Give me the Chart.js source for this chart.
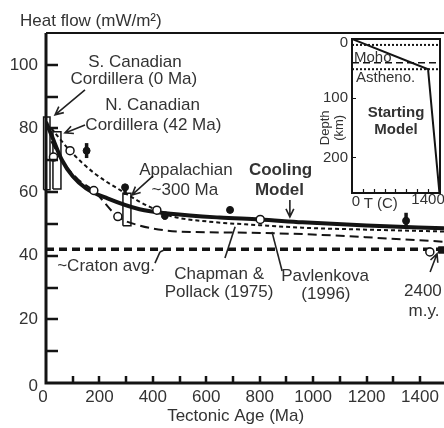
<!DOCTYPE html>
<html>
<head>
<meta charset="utf-8">
<title>Heat flow vs tectonic age</title>
<script src="https://cdn.jsdelivr.net/npm/chart.js"></script>
<style>
  body { margin: 0; background: #fff; }
  #wrap { position: relative; width: 444px; height: 428px; }
  #main { position: absolute; left: 0; top: 0; }
  #inset { position: absolute; left: 300px; top: 30px; }
</style>
</head>
<body>
<div id="wrap">
  <canvas id="main" width="444" height="428"></canvas>
  <canvas id="inset" width="144" height="190"></canvas>
</div>
<script>
// ---- main plot data (age in Ma, heat flow in mW/m2) ----
const xTicks = [0, 100, 200, 300, 400, 500, 600, 700, 800, 900, 1000, 1100, 1200, 1300, 1400];
const yTicks = [0, 10, 20, 30, 40, 50, 60, 70, 80, 90, 100];

const coolAge  = [0, 20, 60, 100, 150, 230, 350, 466, 650, 800, 960, 1200, 1490];
const coolFlow = [82, 78, 70, 65, 61.2, 58, 54.6, 53.2, 52, 51.4, 50.5, 49.5, 48.6];

const cpAge  = [20, 90, 180, 290, 350, 415, 466, 600, 800, 960, 1200, 1490];
const cpFlow = [80, 73, 66, 60, 57, 54.3, 52.5, 50.8, 49.6, 48.8, 48.2, 47.6];

const pavAge  = [20, 67, 120, 179, 269, 350, 500, 700, 960, 1200, 1490];
const pavFlow = [76, 69, 64, 60.4, 52.3, 49.5, 47.6, 47.3, 46.8, 45.8, 44.4];

const cratonAge  = [0, 1490];
const cratonFlow = [42, 42];

const openAge  = [28, 90, 179, 269, 415, 802, 1437];
const openFlow = [71, 73, 60.5, 52.3, 54.3, 51.4, 41.2];

const barAge = [152, 296, 445, 689, 1348];
const barLo  = [70.7, 59.1, 51.3, 53.6, 49];
const barHi  = [75.4, 62.3, 53.9, 55.2, 53.5];
const barMid = [73, 61.5, 52.6, 54.4, 51];

const boxLeft  = [-9, 26, 288];
const boxRight = [15, 56, 318];
const boxLo    = [60.7, 61, 49.4];
const boxHi    = [83.6, 79, 59.6];

const sqAge = [1481];
const sqFlow = [41.8];

// ---- inset data (temperature C, depth km) ----
const insetTTicks = [200, 400, 600, 800, 1000, 1200, 1400];
const insetZTicks = [0, 100, 200];
const geoT = [0, 1400, 1610];
const geoZ = [0, 51, 260];
const dottedDepths = [10, 51];
const mohoDepth = 40;

const F = "'Liberation Sans', Arial, Helvetica, sans-serif";
const INK = '#141414';
const TXT = '#333';

Chart.defaults.font.family = F;

function pts(xs, ys) { return xs.map((x, i) => ({ x: x, y: ys[i] })); }

// annotation texts, placed in data units
const notes = [
  { x: 333, y: 100.9, t: 'S. Canadian' },
  { x: 329, y: 95.3, t: 'Cordillera (0 Ma)' },
  { x: 399, y: 87.4, t: 'N. Canadian' },
  { x: 402, y: 81.1, t: 'Cordillera (42 Ma)' },
  { x: 524, y: 67, t: 'Appalachian' },
  { x: 520, y: 60.7, t: '~300 Ma' },
  { x: 878, y: 66.7, t: 'Cooling', bold: true },
  { x: 874, y: 60.7, t: 'Model', bold: true },
  { x: 225, y: 36.8, t: '~Craton avg.' },
  { x: 648, y: 34.3, t: 'Chapman &' },
  { x: 648, y: 28.6, t: 'Pollack (1975)' },
  { x: 1045, y: 33.6, t: 'Pavlenkova' },
  { x: 1048, y: 28, t: '(1996)' },
  { x: 1411, y: 28.9, t: '2400' },
  { x: 1415, y: 22.6, t: 'm.y.' }
];
// pointer lines: [x0, y0, x1, y1, arrowhead]
const pointers = [
  [146, 92.1, 34, 84.3, true],
  [146, 81.1, 71, 78.6, true],
  [401, 65.1, 322, 59.1, true],
  [913, 57.5, 913, 52.2, true],
  [408, 37.7, 427, 41.2, false],
  [427, 41.2, 442, 41.8, false],
  [670, 39.3, 708, 49.1, false],
  [884, 35.2, 846, 47.5, false],
  [1438, 34.9, 1464, 40.6, true]
];

function drawArrow(ctx, x0, y0, x1, y1, head) {
  ctx.beginPath();
  ctx.moveTo(x0, y0);
  ctx.lineTo(x1, y1);
  if (head) {
    const a = Math.atan2(y1 - y0, x1 - x0);
    const L = 9;
    ctx.moveTo(x1 - L * Math.cos(a - 0.45), y1 - L * Math.sin(a - 0.45));
    ctx.lineTo(x1, y1);
    ctx.lineTo(x1 - L * Math.cos(a + 0.45), y1 - L * Math.sin(a + 0.45));
  }
  ctx.stroke();
}

const mainDecor = {
  id: 'mainDecor',
  afterDraw(chart) {
    const { ctx, chartArea: a, scales: { x, y } } = chart;
    ctx.save();
    ctx.strokeStyle = INK;
    // frame: left and bottom axes heavy, top line lighter
    ctx.lineWidth = 3;
    ctx.beginPath();
    ctx.moveTo(a.left, a.top);
    ctx.lineTo(a.left, a.bottom);
    ctx.lineTo(a.right, a.bottom);
    ctx.stroke();
    ctx.lineWidth = 2;
    ctx.beginPath();
    ctx.moveTo(a.left, a.top);
    ctx.lineTo(a.right, a.top);
    ctx.stroke();
    // inner tick marks
    ctx.lineWidth = 2.5;
    ctx.beginPath();
    yTicks.forEach(v => {
      if (v === 0) return;
      const py = Math.round(y.getPixelForValue(v));
      ctx.moveTo(a.left, py);
      ctx.lineTo(a.left + 12, py);
    });
    xTicks.forEach(v => {
      if (v === 0) return;
      const px = Math.round(x.getPixelForValue(v));
      ctx.moveTo(px, a.bottom);
      ctx.lineTo(px, a.bottom - 7);
    });
    ctx.stroke();
    // tick labels
    ctx.fillStyle = TXT;
    ctx.font = '17px ' + F;
    ctx.textBaseline = 'middle';
    ctx.textAlign = 'right';
    yTicks.filter(v => v % 20 === 0).forEach(v => {
      ctx.fillText(String(v), a.left - 8, y.getPixelForValue(v) + (v === 0 ? 3 : 0));
    });
    ctx.textAlign = 'center';
    xTicks.filter(v => v % 200 === 0).forEach(v => {
      ctx.fillText(String(v), x.getPixelForValue(v) - (v === 0 ? 3 : 0), a.bottom + 14);
    });
    ctx.fillText('Tectonic Age (Ma)', x.getPixelForValue(710), a.bottom + 33);
    // y axis title
    ctx.textAlign = 'left';
    ctx.fillText('Heat flow (mW/m\u00b2)', 20, 21);
    // annotations
    ctx.textAlign = 'center';
    notes.forEach(n => {
      ctx.font = (n.bold ? 'bold ' : '') + '17px ' + F;
      ctx.fillText(n.t, x.getPixelForValue(n.x), y.getPixelForValue(n.y));
    });
    ctx.lineWidth = 1.6;
    ctx.strokeStyle = '#222';
    pointers.forEach(p => {
      drawArrow(ctx, x.getPixelForValue(p[0]), y.getPixelForValue(p[1]),
        x.getPixelForValue(p[2]), y.getPixelForValue(p[3]), p[4]);
    });
    ctx.restore();
  }
};

const datasets = [];
datasets.push({
  data: pts(sqAge, sqFlow), pointStyle: 'rect', pointRadius: 4.5,
  backgroundColor: INK, borderColor: INK, showLine: false
});
datasets.push({
  data: pts(openAge, openFlow), pointStyle: 'circle', pointRadius: 4,
  backgroundColor: '#fff', borderColor: INK, borderWidth: 1.5, showLine: false
});
datasets.push({
  data: pts(barAge, barMid), pointStyle: 'circle', pointRadius: 3.5,
  backgroundColor: INK, borderColor: INK, showLine: false
});
barAge.forEach((a, i) => {
  datasets.push({
    data: [{ x: a, y: barLo[i] }, { x: a, y: barHi[i] }],
    showLine: true, borderColor: INK, borderWidth: 3.5, pointRadius: 0
  });
});
boxLeft.forEach((l, i) => {
  const r = boxRight[i];
  datasets.push({
    data: [{ x: l, y: boxLo[i] }, { x: r, y: boxLo[i] }, { x: r, y: boxHi[i] },
           { x: l, y: boxHi[i] }, { x: l, y: boxLo[i] }],
    showLine: true, borderColor: INK, borderWidth: 1.5, pointRadius: 0, clip: false
  });
});
datasets.push({
  data: pts(coolAge, coolFlow), showLine: true, borderColor: INK, borderWidth: 4,
  pointRadius: 0, cubicInterpolationMode: 'monotone'
});
datasets.push({
  data: pts(cpAge, cpFlow), showLine: true, borderColor: INK, borderWidth: 2,
  borderDash: [4, 3], pointRadius: 0, cubicInterpolationMode: 'monotone'
});
datasets.push({
  data: pts(pavAge, pavFlow), showLine: true, borderColor: INK, borderWidth: 2,
  borderDash: [9, 5], pointRadius: 0, cubicInterpolationMode: 'monotone'
});
datasets.push({
  data: pts(cratonAge, cratonFlow), showLine: true, borderColor: INK, borderWidth: 3.5,
  borderDash: [8, 5], pointRadius: 0
});

new Chart(document.getElementById('main'), {
  type: 'scatter',
  data: { datasets: datasets },
  options: {
    responsive: false,
    animation: false,
    events: [],
    layout: { autoPadding: false, padding: { top: 33, right: 0, left: 46, bottom: 45 } },
    plugins: { legend: { display: false }, tooltip: { enabled: false } },
    scales: {
      x: { type: 'linear', display: false, min: 0, max: 1490 },
      y: { type: 'linear', display: false, min: 0, max: 110 }
    }
  },
  plugins: [mainDecor]
});

// ---- inset: starting geotherm ----
const insetDecor = {
  id: 'insetDecor',
  beforeDatasetsDraw(chart) {
    const { ctx, chartArea: a } = chart;
    ctx.save();
    ctx.fillStyle = '#fff';
    ctx.fillRect(a.left, a.top, a.right - a.left, a.bottom - a.top);
    ctx.restore();
  },
  afterDraw(chart) {
    const { ctx, chartArea: a, scales: { x, y } } = chart;
    ctx.save();
    ctx.strokeStyle = INK;
    ctx.lineWidth = 2;
    ctx.strokeRect(a.left, a.top, a.right - a.left, a.bottom - a.top);
    ctx.lineWidth = 1.2;
    ctx.beginPath();
    insetTTicks.forEach(v => {
      const px = Math.round(x.getPixelForValue(v)) + 0.5;
      ctx.moveTo(px, a.bottom);
      ctx.lineTo(px, a.bottom - 4);
    });
    insetZTicks.forEach(v => {
      if (v === 0) return;
      const py = Math.round(y.getPixelForValue(v)) + 0.5;
      ctx.moveTo(a.left, py);
      ctx.lineTo(a.left + 4, py);
    });
    ctx.stroke();

    ctx.fillStyle = TXT;
    ctx.font = '15px ' + F;
    ctx.textAlign = 'right';
    ctx.textBaseline = 'middle';
    insetZTicks.forEach(v => {
      const py = y.getPixelForValue(v) + (v === 0 ? 3.5 : 0);
      ctx.fillText(String(v), a.left - 4, py);
    });
    ctx.textAlign = 'center';
    ctx.fillText('0', x.getPixelForValue(0) + 4, a.bottom + 9);
    ctx.fillText('1400', x.getPixelForValue(1400), a.bottom + 7);
    ctx.fillText('T (C)', x.getPixelForValue(530), a.bottom + 11);

    // rotated depth label
    ctx.save();
    ctx.font = '13px ' + F;
    ctx.translate(a.left - 27, y.getPixelForValue(150));
    ctx.rotate(-Math.PI / 2);
    ctx.fillText('Depth', 0, 0);
    ctx.fillText('(km)', 0, 14);
    ctx.restore();

    ctx.textAlign = 'left';
    ctx.font = '15px ' + F;
    ctx.fillText('Moho', a.left + 2, y.getPixelForValue(31));
    ctx.fillText('Astheno.', a.left + 4, y.getPixelForValue(66));
    ctx.textAlign = 'center';
    ctx.font = 'bold 15px ' + F;
    ctx.fillText('Starting', (a.left + a.right) / 2, y.getPixelForValue(124));
    ctx.fillText('Model', (a.left + a.right) / 2, y.getPixelForValue(153));
    ctx.restore();
  }
};

const insetSets = [{
  data: pts(geoT, geoZ), showLine: true, borderColor: INK, borderWidth: 2, pointRadius: 0
}];
dottedDepths.forEach(d => {
  insetSets.push({
    data: [{ x: 0, y: d }, { x: 1620, y: d }], showLine: true, borderColor: INK,
    borderWidth: 2, borderDash: [2, 2], pointRadius: 0
  });
});
insetSets.push({
  data: [{ x: 0, y: mohoDepth }, { x: 1620, y: mohoDepth }], showLine: true,
  borderColor: INK, borderWidth: 1.5, borderDash: [7, 4], pointRadius: 0
});

new Chart(document.getElementById('inset'), {
  type: 'scatter',
  data: { datasets: insetSets },
  options: {
    responsive: false,
    animation: false,
    events: [],
    layout: { autoPadding: false, padding: { left: 52, top: 9, right: 4, bottom: 27 } },
    plugins: { legend: { display: false }, tooltip: { enabled: false } },
    scales: {
      x: { type: 'linear', display: false, min: 0, max: 1620 },
      y: { type: 'linear', display: false, min: 0, max: 260, reverse: true }
    }
  },
  plugins: [insetDecor]
});
</script>
</body>
</html>
